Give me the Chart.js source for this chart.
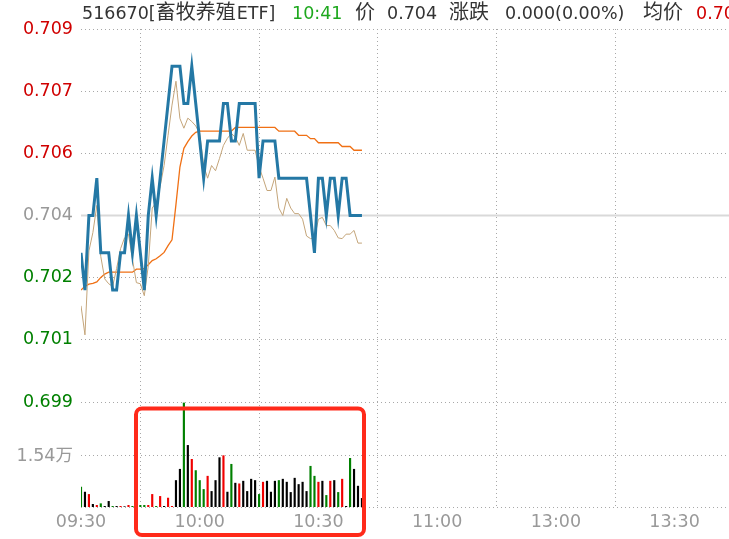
<!DOCTYPE html>
<html>
<head>
<meta charset="utf-8">
<script src="https://cdn.jsdelivr.net/npm/chart.js@4.4.1/dist/chart.umd.min.js"></script>
<style>
body{margin:0;background:#fff;}
#wrap{width:729px;height:539px;}
</style>
</head>
<body>
<div id="wrap"><canvas id="myChart" width="729" height="539"></canvas></div>
<script>
/*Данные: минутки 516670 с 09:30 до 10:41*/
const code = '516670';
const fundName = '畜牧养殖';
const fundType = 'ETF';
const prevClose = 0.704;

const times = ['09:30','09:31','09:32','09:33','09:34','09:35','09:36','09:37','09:38','09:39',
    '09:40','09:41','09:42','09:43','09:44','09:45','09:46','09:47','09:48','09:49',
    '09:50','09:51','09:52','09:53','09:54','09:55','09:56','09:57','09:58','09:59',
    '10:00','10:01','10:02','10:03','10:04','10:05','10:06','10:07','10:08','10:09',
    '10:10','10:11','10:12','10:13','10:14','10:15','10:16','10:17','10:18','10:19',
    '10:20','10:21','10:22','10:23','10:24','10:25','10:26','10:27','10:28','10:29',
    '10:30','10:31','10:32','10:33','10:34','10:35','10:36','10:37','10:38','10:39',
    '10:40','10:41'];

const price = [0.703,0.702,0.704,0.704,0.705,0.703,0.703,0.703,0.702,0.702,
    0.703,0.703,0.704,0.703,0.704,0.703,0.702,0.704,0.705,0.704,
    0.705,0.706,0.707,0.708,0.708,0.708,0.707,0.707,0.708,0.707,
    0.706,0.705,0.706,0.706,0.706,0.706,0.707,0.707,0.706,0.706,
    0.707,0.707,0.707,0.707,0.707,0.705,0.706,0.706,0.706,0.706,
    0.705,0.705,0.705,0.705,0.705,0.705,0.705,0.705,0.704,0.703,
    0.705,0.705,0.704,0.705,0.705,0.704,0.705,0.705,0.704,0.704,
    0.704,0.704];

const avgPrice = [0.7020,0.7021,0.70216,0.70218,0.70222,0.70234,0.70243,0.70248,0.70248,0.70248,
    0.70248,0.70248,0.70248,0.70248,0.70256,0.70256,0.70258,0.70268,0.70279,0.70284,
    0.70292,0.70301,0.70319,0.70335,0.7043,0.7053,0.7058,0.70598,0.70613,0.70623,
    0.70626,0.70626,0.70626,0.70626,0.70626,0.70626,0.70626,0.70626,0.70626,0.70636,
    0.70636,0.70636,0.70636,0.70636,0.70636,0.70636,0.70636,0.70636,0.70636,0.70636,
    0.70626,0.70626,0.70626,0.70626,0.70626,0.70615,0.70615,0.70615,0.70606,0.70606,
    0.70595,0.70595,0.70595,0.70595,0.70595,0.70595,0.70585,0.70585,0.70585,0.70575,
    0.70575,0.70575];

const iopv = [0.70158,0.70080,0.70305,0.70354,0.70427,0.7029,0.7023,0.70217,0.7021,0.70258,
    0.70311,0.7034,0.7035,0.70283,0.7022,0.70217,0.70185,0.70265,0.7042,0.70435,
    0.70478,0.70534,0.70615,0.70696,0.7076,0.7066,0.70634,0.70661,0.70652,0.7064,
    0.7062,0.70534,0.705,0.70534,0.7052,0.70553,0.70588,0.70607,0.7062,0.7061,
    0.70588,0.7062,0.70575,0.70575,0.70575,0.7053,0.705,0.70467,0.70467,0.70503,
    0.7042,0.704,0.70446,0.7042,0.70405,0.70405,0.7039,0.70345,0.70338,0.7034,
    0.7039,0.70395,0.70373,0.70373,0.7036,0.7034,0.70338,0.7035,0.7035,0.7036,
    0.70326,0.70326];

// объём в 万
const volume = [0.6,0.45,0.38,0.08,0.05,0.1,0.02,0.17,0.02,0.02,
    0.02,0.01,0.05,0.02,0.03,0.05,0.05,0.05,0.38,0.02,
    0.32,0.02,0.27,0.02,0.8,1.14,3.14,1.86,1.44,1.1,
    0.8,0.53,0.93,0.47,0.8,1.49,1.55,0.45,1.29,0.72,
    0.7,0.78,0.47,0.84,0.8,0.38,0.75,0.78,0.45,0.78,
    0.8,0.84,0.75,0.44,0.87,0.68,0.75,0.47,1.23,0.93,
    0.75,0.78,0.35,0.78,0.8,0.44,0.84,0.02,1.47,1.14,
    0.63,0.26];
// 1 - вверх, -1 - вниз, 0 - без изменений
const volDir = [-1,0,1,0,1,-1,0,0,-1,0,
    1,0,1,-1,-1,-1,-1,1,1,-1,
    1,0,1,1,0,0,-1,0,1,-1,
    -1,-1,1,0,0,0,1,0,-1,0,
    1,0,0,0,0,-1,1,0,0,0,
    -1,0,0,0,0,0,0,0,-1,-1,
    1,0,-1,1,0,-1,1,0,-1,0,
    0,0];

const xTickLabels = ['09:30','10:00','10:30','11:00','13:00','13:30'];
const priceTicks = [0.709, 0.7073333, 0.7056667, 0.704, 0.7023333, 0.7006667, 0.699];
const volTicks = [1.54];

// минута торгового дня (обед 11:30-13:00 выкинут)
function tradeMin(t) {
    const parts = t.split(':');
    let v = parseInt(parts[0]) * 60 + parseInt(parts[1]) - 570;
    if (v >= 210) v -= 90;
    return v;
}

const P_MIN = 0.696185, P_MAX = 0.709;
const V_MAX = 14.43;
const X_MAX = 163.76;

const pts = (arr) => arr.map((v, i) => ({x: tradeMin(times[i]), y: v}));
const volColor = volDir.map(d => d > 0 ? '#f00000' : (d < 0 ? '#008000' : '#000000'));

const NUM_FONT = '17.5px "DejaVu Sans", "Noto Sans CJK SC", sans-serif';
const CJK_FONT = '20px "Noto Sans CJK SC", sans-serif';

Chart.defaults.font.family = '"DejaVu Sans", "Noto Sans CJK SC", sans-serif';
Chart.defaults.font.size = 17.5;

// строка заголовка (разные цвета, поэтому рисуем сами)
const titlePlugin = {
    id: 'titleBar',
    afterDraw(chart) {
        const ctx = chart.ctx;
        const last = price.length - 1;
        const chg = price[last] - prevClose;
        ctx.save();
        ctx.textBaseline = 'alphabetic';
        ctx.textAlign = 'left';
        function put(x, text, color, font) {
            ctx.font = font;
            ctx.fillStyle = color;
            ctx.fillText(text, x, 19);
            return x + ctx.measureText(text).width;
        }
        let x = put(82, code + '[', '#333333', NUM_FONT);
        x = put(x, fundName, '#333333', CJK_FONT);
        put(x + 1, fundType + ']', '#333333', NUM_FONT);
        put(292, times[last], '#1ea81e', NUM_FONT);
        put(355, '价', '#333333', CJK_FONT);
        put(387, price[last].toFixed(3), '#333333', NUM_FONT);
        put(449, '涨跌', '#333333', CJK_FONT);
        put(505, Math.abs(chg).toFixed(3) + '(' + Math.abs(chg / prevClose * 100).toFixed(2) + '%)', '#333333', NUM_FONT);
        put(643, '均价', '#333333', CJK_FONT);
        put(696, avgPrice[last].toFixed(3), '#d00000', NUM_FONT);
        ctx.restore();
    }
};

const boxPlugin = {
    id: 'markBox',
    afterDraw(chart) {
        const ctx = chart.ctx;
        ctx.save();
        ctx.strokeStyle = '#ff2a1a';
        ctx.lineWidth = 4;
        ctx.beginPath();
        ctx.roundRect(136, 408.5, 228, 126.5, 6);
        ctx.stroke();
        ctx.restore();
    }
};

const ctx = document.getElementById('myChart').getContext('2d');
const myChart = new Chart(ctx, {
    type: 'line',
    data: {
        datasets: [{
            label: '价格',
            data: pts(price),
            borderColor: '#2478a5',
            borderWidth: 3,
            pointRadius: 0,
            yAxisID: 'y',
            order: 0
        }, {
            label: 'IOPV',
            data: pts(iopv),
            borderColor: '#c4a57a',
            borderWidth: 1,
            pointRadius: 0,
            yAxisID: 'y',
            order: 1
        }, {
            label: '均价',
            data: pts(avgPrice),
            borderColor: '#f07014',
            borderWidth: 1.3,
            pointRadius: 0,
            yAxisID: 'y',
            order: 2
        }, {
            type: 'bar',
            label: '成交量',
            data: pts(volume),
            backgroundColor: volColor,
            barThickness: 1.5,
            yAxisID: 'yv',
            order: 3
        }, {
            label: '昨收',
            data: [{x: tradeMin('09:30'), y: prevClose}, {x: tradeMin('15:00'), y: prevClose}],
            borderColor: '#d9d9d9',
            borderWidth: 2,
            pointRadius: 0,
            yAxisID: 'y',
            order: 4
        }]
    },
    options: {
        responsive: false,
        animation: false,
        events: [],
        layout: {padding: {top: 29, right: 0, left: 0, bottom: 0}},
        plugins: {legend: {display: false}, tooltip: {enabled: false}},
        scales: {
            x: {
                type: 'linear',
                min: 0,
                max: X_MAX,
                offset: false,
                afterBuildTicks: (scale) => {
                    scale.ticks = xTickLabels.map(t => ({value: tradeMin(t)}));
                },
                afterFit: (scale) => { scale.height = 32; },
                ticks: {
                    autoSkip: false,
                    maxRotation: 0,
                    padding: 5,
                    color: '#999999',
                    callback: (v) => xTickLabels.find(t => tradeMin(t) === v)
                },
                grid: {color: '#a8a8a8', drawTicks: false},
                border: {display: false, dash: [1, 3]}
            },
            y: {
                type: 'linear',
                position: 'left',
                min: P_MIN,
                max: P_MAX,
                afterBuildTicks: (scale) => {
                    const t = priceTicks.map(v => ({value: v, kind: 'price'}));
                    volTicks.forEach(v => t.push({value: P_MIN + v / V_MAX * (P_MAX - P_MIN), kind: 'vol', vol: v}));
                    t.push({value: P_MIN, kind: 'edge'});
                    scale.ticks = t;
                },
                afterFit: (scale) => { scale.width = 81; },
                ticks: {
                    autoSkip: false,
                    padding: 8,
                    callback: (v, i, ticks) => {
                        const t = ticks[i];
                        if (t.kind === 'vol') return t.vol + '万';
                        if (t.kind === 'edge') return '';
                        return v.toFixed(3);
                    },
                    color: (c) => {
                        const t = c.tick;
                        if (!t || t.kind !== 'price') return '#999999';
                        if (Math.abs(t.value - prevClose) < 1e-6) return '#999999';
                        return t.value > prevClose ? '#d00000' : '#008000';
                    }
                },
                grid: {color: '#a8a8a8', drawTicks: false},
                border: {display: false, dash: [1, 3]}
            },
            yv: {
                type: 'linear',
                display: false,
                min: 0,
                max: V_MAX
            }
        }
    },
    plugins: [titlePlugin, boxPlugin]
});
</script>
</body>
</html>
